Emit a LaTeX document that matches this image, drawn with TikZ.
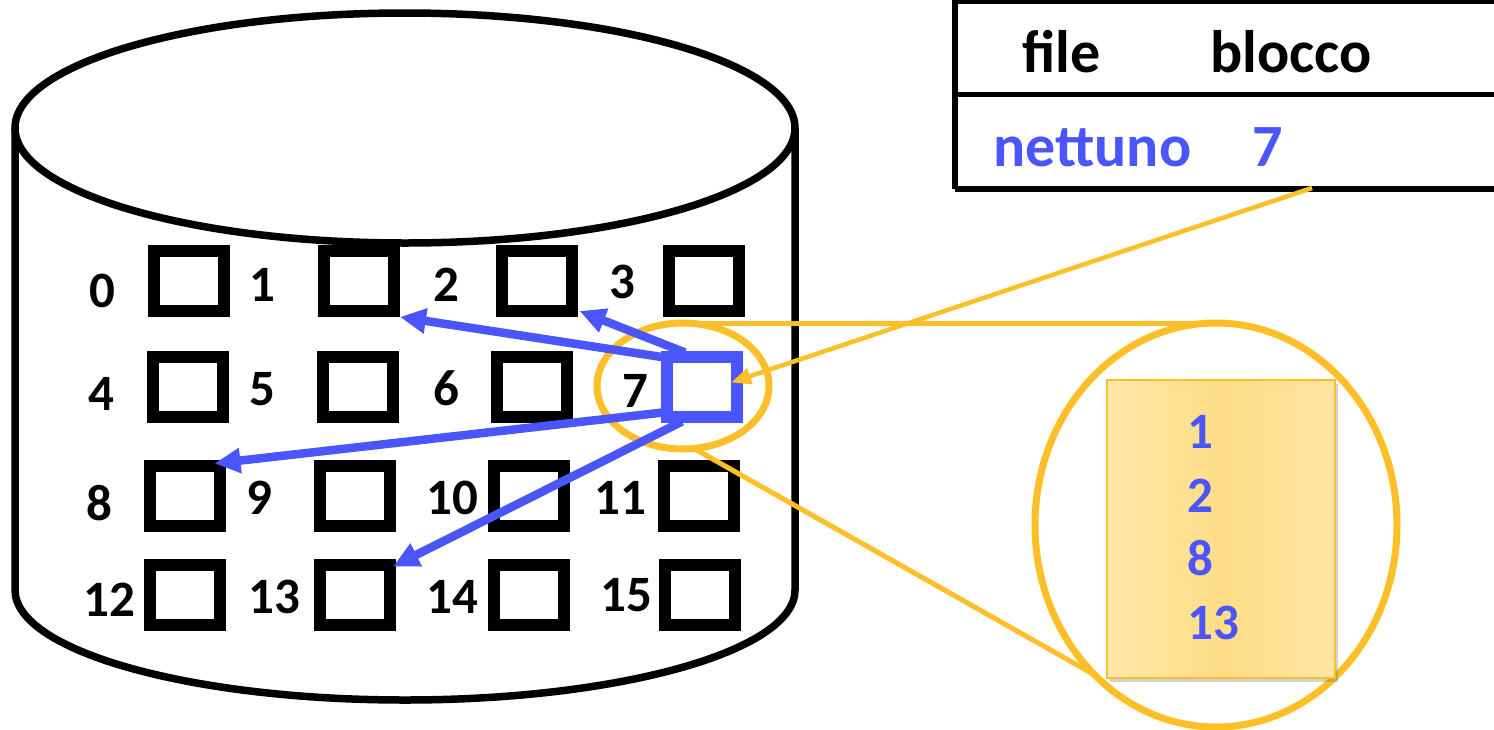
\documentclass[tikz,border=0pt]{standalone}
\usepackage{fontspec}
\setmainfont{Carlito}
\usetikzlibrary{arrows.meta,shapes.geometric,calc,shadows}
\definecolor{diskblue}{RGB}{74,86,252}
\definecolor{zoomorange}{RGB}{252,191,39}
\definecolor{paperlight}{RGB}{254,232,170}
\definecolor{papermid}{RGB}{253,221,134}
\definecolor{paperright}{RGB}{254,229,162}

\begin{document}
\begin{tikzpicture}[x=1pt,y=-1pt,
  cyl/.style={line width=7.5pt, draw=black},
  blk/.style={draw=black, line width=12pt, minimum width=70pt, minimum height=60pt, inner sep=0pt},
  blkblue/.style={blk, draw=diskblue},
  blknum/.style={font=\fontsize{51}{60}\selectfont\bfseries, inner sep=0pt, anchor=base},
  tabtxt/.style={font=\fontsize{60}{72}\selectfont\bfseries, inner sep=0pt, anchor=base west},
  tabline/.style={line width=5.5pt, draw=black},
  zoomell/.style={ellipse, draw=zoomorange, line width=7pt, inner sep=0pt, outer sep=0pt},
  zoomline/.style={draw=zoomorange, line width=5pt},
  ptr/.style={draw=diskblue, line width=8.5pt, -{Triangle[length=26pt, width=24pt]}},
  refptr/.style={draw=zoomorange, line width=4.5pt, -{Triangle[length=20pt, width=16pt]}},
  paper/.style={draw=zoomorange, line width=2pt, left color=paperlight, right color=paperright, middle color=papermid, minimum width=228pt, minimum height=298pt, inner sep=0pt, drop shadow={shadow xshift=3pt, shadow yshift=-4pt, opacity=0.3, fill=black!60}},
  listnum/.style={font=\fontsize{51}{60}\selectfont\bfseries, text=diskblue, inner sep=0pt, anchor=base west}
]
\useasboundingbox (0,0) rectangle (1494,729);
\clip (0,0) rectangle (1494,729);

% disk cylinder
\draw[cyl] (405,128) ellipse [x radius=390, y radius=115];
\draw[cyl] (15,128) -- (15,590) arc [start angle=180, end angle=0, x radius=390, y radius=110] -- (795,128);

% disk blocks
\node[blk] (b0)  at (189,281) {};
\node[blk] (b1)  at (359,281) {};
\node[blk] (b2)  at (536.5,281) {};
\node[blk] (b3)  at (703.5,281) {};
\node[blk] (b4)  at (187.5,386.5) {};
\node[blk] (b5)  at (358,386.5) {};
\node[blk] (b6)  at (532,386.5) {};
\node[blk] (b8)  at (184.5,495.5) {};
\node[blk] (b9)  at (355,495.5) {};
\node[blk] (b10) at (529,495.5) {};
\node[blk] (b11) at (699,495.5) {};
\node[blk] (b12) at (184.5,594.5) {};
\node[blk] (b13) at (355,594.5) {};
\node[blk] (b14) at (528.5,594.5) {};
\node[blk] (b15) at (699.5,594.5) {};

% block numbers
\node[blknum] (n0)  at (102,307) {0};
\node[blknum] (n1)  at (262,301) {1};
\node[blknum] (n2)  at (446,301) {2};
\node[blknum] (n3)  at (622,298) {3};
\node[blknum] (n4)  at (101,410) {4};
\node[blknum] (n5)  at (262,405) {5};
\node[blknum] (n6)  at (446,405) {6};
\node[blknum] (n7)  at (635,407) {7};
\node[blknum] (n8)  at (99,520) {8};
\node[blknum] (n9)  at (259,514) {9};
\node[blknum] (n10) at (452,514) {10};
\node[blknum] (n11) at (620,514) {11};
\node[blknum] (n12) at (109,616) {12};
\node[blknum] (n13) at (274,613) {13};
\node[blknum] (n14) at (452,613) {14};
\node[blknum] (n15) at (626,611) {15};

% directory table
\draw[tabline] (955,0) -- (955,189);
\draw[tabline] (955,1) -- (1494,1);
\draw[tabline] (955,94.5) -- (1494,94.5);
\draw[tabline] (955,189) -- (1494,189);
\node[tabtxt] (hfile)  at (1022,72) {file};
\node[tabtxt] (hblock) at (1210,72) {blocco};
\node[tabtxt, text=diskblue] (fname)  at (993,166) {nettuno};
\node[tabtxt, text=diskblue] (fblock) at (1252,166) {7};
\coordinate (tabref) at (1312,188);

% magnifier
\node[zoomell, minimum width=172pt, minimum height=126pt] (lens) at (683,386) {};
\node[zoomell, minimum width=362pt, minimum height=404pt] (mag) at (1216,525) {};
\draw[zoomline] (lens.north) -- (mag.north);
\draw[zoomline] (lens.280) -- (mag.231);

% index block contents
\node[paper] (idx) at (1221,529) {};
\node[listnum] (i1)  at (1187,448) {1};
\node[listnum] (i2)  at (1187,512) {2};
\node[listnum] (i8)  at (1187,575) {8};
\node[listnum] (i13) at (1187,639) {13};

% index block and its pointers
\node[blkblue] (b7) at (702,386.5) {};
\draw[ptr] ($(b7.north west)+(4,7)$) -- (b1.south east);
\draw[ptr] ($(b7.north west)+(24,2)$) -- ($(b2.south east)+(2,-6)$);
\draw[ptr] ($(b7.south west)+(2,-10)$) -- ($(b8.north east)+(-11,4)$);
\draw[ptr] ($(b7.south west)+(21,-1)$) -- ($(b13.north east)+(-3,8)$);

% directory entry pointing at the index block
\draw[refptr] (tabref) -- ($(b7.east)+(-12,-4)$);
\end{tikzpicture}
\end{document}
